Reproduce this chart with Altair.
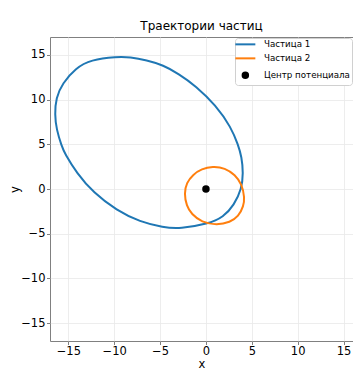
import altair as alt
import pandas as pd

# Particle 1 trajectory (counter-clockwise)
p1_x = [1.9, 3.07, 3.89, 4.07, 3.89, 3.52, 2.75, 1.06, -1.09, -3.0, -4.65, -6.46,
        -8.28, -9.7, -12.57, -14.19, -15.65, -16.35, -16.48, -16.3, -15.72, -15.4,
        -14.08, -12.28, -9.73, -7.19, -4.65, -2.83, 0.25]
p1_y = [-3.15, -1.79, 0.0, 1.78, 3.61, 4.89, 6.9, 9.37, 11.52, 12.9, 13.85, 14.4,
        14.75, 14.8, 14.45, 13.53, 11.82, 10.2, 8.34, 6.68, 4.78, 3.99,
        1.78, -0.4, -2.4, -3.68, -4.3, -4.45, -3.9]

# Particle 2 trajectory
p2_x = [4.22, 3.92, 3.18, 2.08, 0.73, -0.48, -1.4, -2.12, -2.37, -2.12, -1.58, -0.48,
        1.2, 2.63, 3.55, 4.1]
p2_y = [-1.0, 0.53, 1.57, 2.36, 2.52, 2.25, 1.62, 0.7, -0.5, -1.88, -2.8, -3.71,
        -4.05, -3.72, -3.08, -1.9]

center_x = [0.0]
center_y = [0.0]

series_names = ["Частица 1", "Частица 2", "Центр потенциала"]
series_colors = ["#1f77b4", "#ff7f0e", "black"]
line_symbol = "M-3.65,0H3.65"
series_shapes = [line_symbol, line_symbol, "circle"]
ticks = [-15, -10, -5, 0, 5, 10, 15]

rows = []
for i, (x, y) in enumerate(zip(p1_x, p1_y)):
    rows.append({"x": x, "y": y, "series": series_names[0], "i": i})
for i, (x, y) in enumerate(zip(p2_x, p2_y)):
    rows.append({"x": x, "y": y, "series": series_names[1], "i": i})
traj = pd.DataFrame(rows)
center = pd.DataFrame({"x": center_x, "y": center_y, "series": [series_names[2]]})

# the right end of the axis is cut off by the picture edge in the reference
xscale = alt.Scale(domain=[-17, 16.03], nice=False, zero=False)
yscale = alt.Scale(domain=[-17, 17], nice=False, zero=False)
xaxis = alt.Axis(title="x", values=ticks, format="d", labelPadding=0.5,
                 titleY=26, titleBaseline="alphabetic")
yaxis = alt.Axis(title="y", values=ticks, format="d", labelPadding=1.5,
                 titleX=-31.5, titleBaseline="alphabetic")

leg = alt.Legend(title=None, orient="top-right", offset=1, padding=2,
                 fillColor="white", strokeColor="#d0d0d0", cornerRadius=3,
                 labelFont="DejaVu Sans", labelFontSize=8.7, labelColor="black",
                 symbolOffset=4, labelOffset=14.3, rowPadding=4,
                 symbolStrokeWidth=2, symbolOpacity=1, symbolSize=30)

lines = alt.Chart(traj).mark_line(strokeWidth=2, interpolate="basis-closed").encode(
    x=alt.X("x:Q", scale=xscale, axis=xaxis),
    y=alt.Y("y:Q", scale=yscale, axis=yaxis),
    stroke=alt.Stroke("series:N", scale=alt.Scale(domain=series_names[:2], range=series_colors[:2]), legend=None),
    order="i:Q",
)

pts = alt.Chart(center).mark_point(filled=False, fill="black", size=30, strokeWidth=2, opacity=1).encode(
    x=alt.X("x:Q", scale=xscale),
    y=alt.Y("y:Q", scale=yscale),
    color=alt.Color("series:N", scale=alt.Scale(domain=series_names, range=series_colors), legend=leg),
    shape=alt.Shape("series:N", scale=alt.Scale(domain=series_names, range=series_shapes), legend=leg),
)

chart = alt.layer(lines, pts).properties(
    width=303, height=304,
    padding={"left": 42, "top": 29, "right": 0, "bottom": 29},
    autosize=alt.AutoSizeParams(type="none"),
    title=alt.TitleParams("Траектории частиц", fontSize=12, font="DejaVu Sans",
                          fontWeight="normal", anchor="middle", offset=4, color="black"),
).configure_view(stroke="#808080", strokeWidth=1).configure_axis(
    domain=False, grid=True, gridColor="#e8e8e8", gridWidth=0.8,
    tickColor="#808080", tickSize=3.5,
    labelFont="DejaVu Sans", labelFontSize=11.5, labelColor="black",
    titleFont="DejaVu Sans", titleFontSize=11.5, titleFontWeight="normal", titleColor="black",
)

chart.save("out.html", embed_options={"renderer": "svg", "actions": False})
